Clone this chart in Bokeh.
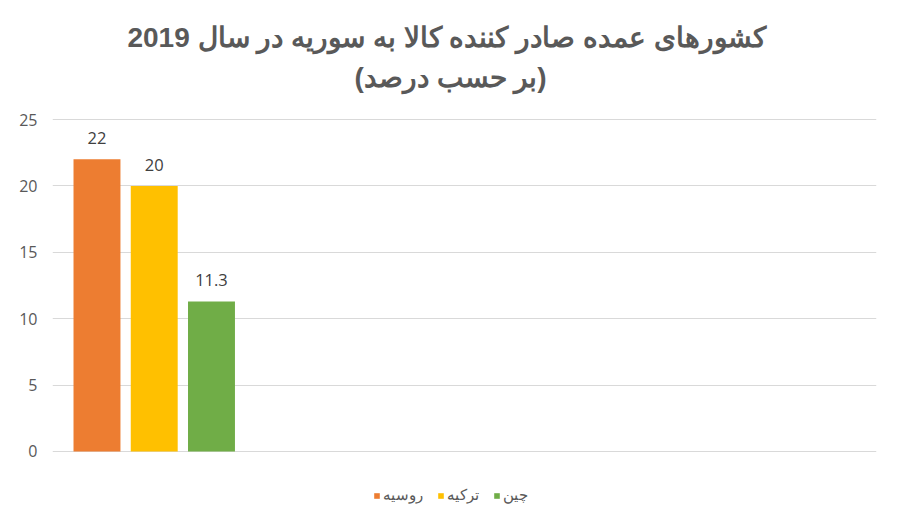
from bokeh.plotting import figure
from bokeh.models import (ColumnDataSource, Range1d, FixedTicker, Label,
                          Legend, LegendItem)
from bokeh.core.properties import value
from bokeh.embed import file_html
from bokeh.resources import INLINE

# ---- data ----
countries = ["روسیه", "ترکیه", "چین"]
shares = [22, 20, 11.3]
share_labels = ["22", "20", "11.3"]
colors = ["#ED7D31", "#FFC000", "#70AD47"]
y_ticks = [0, 5, 10, 15, 20, 25]
title_line1 = "کشورهای  عمده صادر کننده کالا به سوریه در سال 2019"
title_line2 = "(بر حسب درصد)"

positions = list(range(len(countries)))

# frame spans the full height; the y range is extended so that the title and
# legend sit inside the frame (annotations are clipped to the frame)
p = figure(width=900, height=526, output_backend="svg", toolbar_location=None,
           x_range=Range1d(-0.777, 13.616), y_range=Range1d(-5.648, 33.961),
           min_border_left=52, min_border_right=24, min_border_top=0,
           min_border_bottom=0)
p.title.visible = False
p.outline_line_color = None
p.background_fill_color = "white"
p.border_fill_color = "white"

p.xaxis.visible = False
p.xgrid.grid_line_color = None
p.ygrid.grid_line_color = "#D9D9D9"
p.ygrid.grid_line_width = 1
p.yaxis.ticker = FixedTicker(ticks=y_ticks)
p.yaxis.axis_line_color = None
p.yaxis.major_tick_line_color = None
p.yaxis.minor_tick_line_color = None
p.yaxis.major_tick_out = 0
p.yaxis.major_label_text_color = "#595959"
p.yaxis.major_label_text_font = "Open Sans"
p.yaxis.major_label_text_font_size = "16px"
p.yaxis.major_label_standoff = 15

renderers = []
for i, (c, v, col) in enumerate(zip(countries, shares, colors)):
    src = ColumnDataSource(dict(x=[positions[i]], top=[v]))
    r = p.vbar(x="x", top="top", bottom=0, width=0.82, source=src, fill_color=col,
               line_color=None)
    renderers.append(r)

lab_src = ColumnDataSource(dict(x=positions, y=shares, t=share_labels))
p.text(x="x", y="y", text="t", source=lab_src, text_align="center",
       text_baseline="bottom", y_offset=-15, text_font=value("Open Sans"),
       text_font_size="16.5px", text_color="#404040")

legend = Legend(items=[LegendItem(label=c, renderers=[r])
                       for c, r in zip(countries, renderers)],
                orientation="horizontal", location=(321, 22),
                glyph_width=7, glyph_height=7, label_height=16,
                label_standoff=3, spacing=14, padding=0, margin=0,
                border_line_color=None, background_fill_alpha=0,
                label_text_font="Liberation Sans", label_text_font_size="15px",
                label_text_color="#595959")
p.add_layout(legend, "center")

t1 = Label(x=398, y=489, x_units="screen", y_units="screen", text=title_line1,
           text_align="center", text_baseline="middle", text_font="Liberation Sans",
           text_font_style="bold", text_font_size="28px", text_color="#595959")
t2 = Label(x=398, y=449, x_units="screen", y_units="screen", text=title_line2,
           text_align="center", text_baseline="middle", text_font="Liberation Sans",
           text_font_style="bold", text_font_size="28px", text_color="#595959")
p.add_layout(t1)
p.add_layout(t2)

open("out.html", "w").write(file_html(p, INLINE))
